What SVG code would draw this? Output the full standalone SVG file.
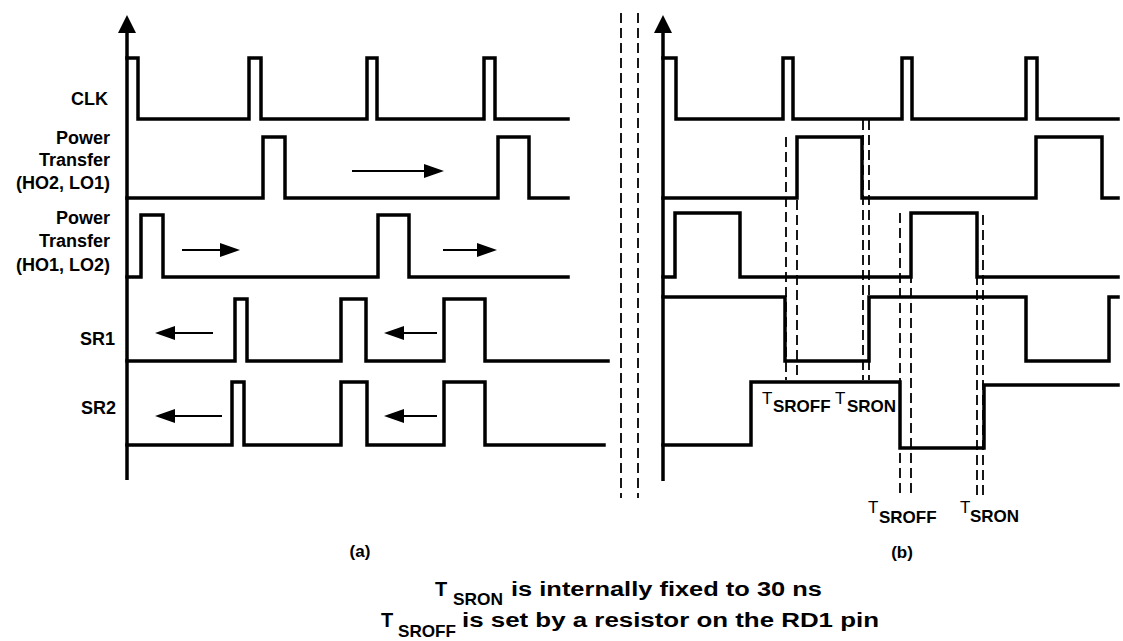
<svg xmlns="http://www.w3.org/2000/svg" width="1123" height="641" viewBox="0 0 1123 641">
<style>
.sig{fill:none;stroke:#000;stroke-width:3.5;stroke-linejoin:miter;stroke-linecap:square}
.axis{fill:none;stroke:#000;stroke-width:3.5}
.dash{fill:none;stroke:#000;stroke-width:1.8;stroke-dasharray:10 5}
.arr{fill:none;stroke:#000;stroke-width:2}
.lbl{font-family:"Liberation Sans",Arial,sans-serif;font-weight:bold;font-size:18px;fill:#000}
.t{font-family:"Liberation Sans",Arial,sans-serif;font-size:17px;fill:#000}
.sub{font-family:"Liberation Sans",Arial,sans-serif;font-weight:bold;font-size:17px;fill:#000}
.cap{font-family:"Liberation Sans",Arial,sans-serif;font-weight:bold;font-size:20px;fill:#000}
.capsub{font-family:"Liberation Sans",Arial,sans-serif;font-weight:bold;font-size:17px;fill:#000}
.pl{font-family:"Liberation Sans",Arial,sans-serif;font-weight:bold;font-size:17px;fill:#000}
</style>
<defs>
<marker id="ah" markerUnits="userSpaceOnUse" markerWidth="20" markerHeight="14" refX="0" refY="7" orient="auto">
<path d="M0,0 L20,7 L0,14 Z" fill="#000"/>
</marker>
<marker id="axh" markerUnits="userSpaceOnUse" markerWidth="18" markerHeight="18" refX="0" refY="9" orient="auto">
<path d="M0,0 L18,9 L0,18 Z" fill="#000"/>
</marker>
</defs>
<rect width="1123" height="641" fill="#fff"/>

<g id="axes">
<line class="axis" x1="127" y1="480" x2="127" y2="33" marker-end="url(#axh)"/>
<line class="axis" x1="663" y1="481" x2="663" y2="33" marker-end="url(#axh)"/>
</g>

<g id="separator">
<line class="dash" x1="621" y1="13" x2="621" y2="498"/>
<line class="dash" x1="638" y1="13" x2="638" y2="498"/>
</g>

<g id="labels-a">
<text class="lbl" x="108" y="105" text-anchor="end">CLK</text>
<text class="lbl" x="110" y="144" text-anchor="end">Power</text>
<text class="lbl" x="110" y="166" text-anchor="end">Transfer</text>
<text class="lbl" x="110" y="189" text-anchor="end">(HO2, LO1)</text>
<text class="lbl" x="110" y="224" text-anchor="end">Power</text>
<text class="lbl" x="110" y="247" text-anchor="end">Transfer</text>
<text class="lbl" x="110" y="271" text-anchor="end">(HO1, LO2)</text>
<text class="lbl" x="115" y="345" text-anchor="end">SR1</text>
<text class="lbl" x="116" y="414" text-anchor="end">SR2</text>
</g>

<g id="signals-a">
<path id="clk-a" class="sig" d="M127,58 H138 V119 H249 V58 H261 V119 H367 V58 H377 V119 H484 V58 H495 V119 H568"/>
<path id="pt1-a" class="sig" d="M127,198 H263 V137 H285 V198 H498 V137 H529 V198 H568"/>
<path id="pt2-a" class="sig" d="M127,277 H141 V215 H163 V277 H378 V215 H409 V277 H568"/>
<path id="sr1-a" class="sig" d="M127,361 H235 V299 H247 V361 H341 V299 H366 V361 H444 V299 H485 V361 H608"/>
<path id="sr2-a" class="sig" d="M127,445 H232 V382 H244 V445 H341 V382 H367 V445 H444 V382 H485 V445 H604"/>
</g>

<g id="connectors">
<line class="arr" x1="352" y1="171" x2="424" y2="171" marker-end="url(#ah)"/>
<line class="arr" x1="182" y1="250" x2="220" y2="250" marker-end="url(#ah)"/>
<line class="arr" x1="443" y1="250" x2="477" y2="250" marker-end="url(#ah)"/>
<line class="arr" x1="213" y1="333" x2="175" y2="333" marker-end="url(#ah)"/>
<line class="arr" x1="437" y1="333" x2="404" y2="333" marker-end="url(#ah)"/>
<line class="arr" x1="222" y1="416" x2="175" y2="416" marker-end="url(#ah)"/>
<line class="arr" x1="437" y1="416" x2="404" y2="416" marker-end="url(#ah)"/>
</g>

<g id="signals-b">
<path id="clk-b" class="sig" d="M663,58 H676 V119 H783 V58 H793 V119 H902 V58 H912 V119 H1026 V58 H1037 V119 H1118"/>
<path id="pt1-b" class="sig" d="M663,198 H797 V137 H862 V198 H1036 V137 H1102 V198 H1118"/>
<path id="pt2-b" class="sig" d="M663,277 H675 V213 H740 V277 H911 V213 H977 V277 H1118"/>
<path id="sr1-b" class="sig" d="M663,297 H785 V361 H869 V297 H1026 V361 H1109 V297 H1118"/>
<path id="sr2-b" class="sig" d="M663,445 H751 V382 H900 V448 H984 V385 H1118"/>
</g>

<g id="timing-marks">
<line class="dash" x1="786" y1="137" x2="786" y2="380"/>
<line class="dash" x1="797" y1="200" x2="797" y2="380"/>
<line class="dash" x1="863" y1="120" x2="863" y2="380"/>
<line class="dash" x1="869" y1="120" x2="869" y2="380"/>
<line class="dash" x1="900" y1="213" x2="900" y2="493"/>
<line class="dash" x1="911" y1="213" x2="911" y2="493"/>
<line class="dash" x1="977" y1="215" x2="977" y2="497"/>
<line class="dash" x1="983" y1="215" x2="983" y2="497"/>
</g>

<g id="labels-b">
<text class="t" x="762" y="404">T</text>
<text class="sub" x="773" y="412">SROFF</text>
<text class="t" x="835" y="404">T</text>
<text class="sub" x="847" y="412">SRON</text>
<text class="t" x="868" y="513">T</text>
<text class="sub" x="879" y="523">SROFF</text>
<text class="t" x="960" y="513">T</text>
<text class="sub" x="970" y="522">SRON</text>
</g>

<g id="captions">
<text class="pl" x="360" y="557" text-anchor="middle">(a)</text>
<text class="pl" x="902" y="558" text-anchor="middle">(b)</text>
</g>

<g id="notes">
<text class="cap" x="435" y="596">T</text>
<text class="capsub" x="453" y="605" textLength="50" lengthAdjust="spacingAndGlyphs">SRON</text>
<text class="cap" x="511" y="596" textLength="311" lengthAdjust="spacingAndGlyphs">is internally fixed to 30 ns</text>
<text class="cap" x="381" y="627">T</text>
<text class="capsub" x="398" y="637" textLength="58" lengthAdjust="spacingAndGlyphs">SROFF</text>
<text class="cap" x="462" y="627" textLength="417" lengthAdjust="spacingAndGlyphs">is set by a resistor on the RD1 pin</text>
</g>
</svg>
